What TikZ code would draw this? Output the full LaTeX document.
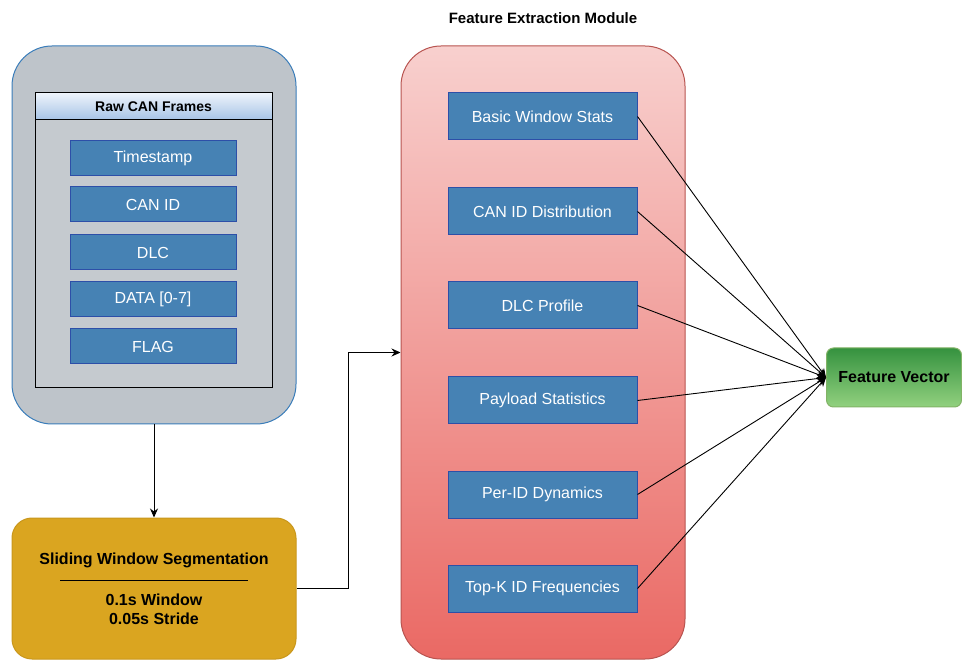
\documentclass[tikz,border=0pt]{standalone}
\usepackage{fontspec}
\setmainfont{Liberation Sans}
\usetikzlibrary{arrows.meta,shadings}
\definecolor{grayfill}{HTML}{BEC4CA}
\definecolor{grayedge}{HTML}{3A7DBA}
\definecolor{innerfill}{HTML}{C5CACF}
\definecolor{hdrtop}{HTML}{EEF4FB}
\definecolor{hdrbot}{HTML}{A6C3E6}
\definecolor{bluefill}{HTML}{4682B4}
\definecolor{blueedge}{HTML}{2D4FA8}
\definecolor{goldfill}{HTML}{DAA520}
\definecolor{goldedge}{HTML}{C9971C}
\definecolor{redtop}{HTML}{F8D0CE}
\definecolor{redbot}{HTML}{EA6964}
\definecolor{rededge}{HTML}{B85450}
\definecolor{greentop}{HTML}{35923F}
\definecolor{greenbot}{HTML}{92D17F}
\definecolor{greenedge}{HTML}{82B366}
\tikzset{
  fieldbox/.style={draw=blueedge, line width=1pt, fill=bluefill, text=white,
    minimum width=166pt, minimum height=35pt, inner sep=0pt,
    font=\fontsize{16}{19}\selectfont},
  featbox/.style={draw=blueedge, line width=1pt, fill=bluefill, text=white,
    minimum width=189pt, minimum height=47pt, inner sep=0pt,
    font=\fontsize{16}{19}\selectfont},
  boldlbl/.style={inner sep=0pt, font=\bfseries\fontsize{16}{19}\selectfont},
  conn/.style={draw=black, line width=0.9pt},
  arr/.style={conn, -{Stealth[length=9pt,width=8pt]}}
}
\begin{document}
\begin{tikzpicture}[x=1pt,y=-1pt]
\useasboundingbox (0,0) rectangle (962,660);
\fill[white] (0,0) rectangle (962,660);

% title
\node[inner sep=0pt, font=\bfseries\fontsize{15}{18}\selectfont] (title) at (543,18) {Feature Extraction Module};

% left gray container
\node[draw=grayedge, line width=1pt, fill=grayfill, rounded corners=40pt,
  minimum width=284pt, minimum height=378pt, inner sep=0pt] (raw) at (154,235) {};
\node[draw=black, line width=1pt, fill=innerfill, minimum width=237pt, minimum height=295pt, inner sep=0pt] (inner) at (153.5,240.5) {};
\node[draw=black, line width=1pt, top color=hdrtop, bottom color=hdrbot, minimum width=237pt, minimum height=27pt, inner sep=0pt,
  font=\bfseries\fontsize{14}{17}\selectfont] (hdr) at (153.5,106.5) {Raw CAN Frames};
\node[fieldbox] (ts) at (153,158) {Timestamp};
\node[fieldbox] (cid) at (153,204.5) {CAN ID};
\node[fieldbox] (dlc) at (153,252.5) {DLC};
\node[fieldbox] (data) at (153,299.5) {DATA [0-7]};
\node[fieldbox] (flag) at (153,346.5) {FLAG};

% segmentation box
\node[draw=goldedge, line width=1pt, fill=goldfill, rounded corners=20pt,
  minimum width=284pt, minimum height=141pt, inner sep=0pt] (seg) at (154,588.5) {};
\node[boldlbl] (segt) at (154,560) {Sliding Window Segmentation};
\draw[black, line width=1pt] (60,580) -- (248,580);
\node[boldlbl] (segw) at (154,600) {0.1s Window};
\node[boldlbl] (segs) at (154,619) {0.05s Stride};

% feature extraction module
\node[draw=rededge, line width=1pt, top color=redtop, bottom color=redbot, rounded corners=40pt,
  minimum width=284pt, minimum height=613pt, inner sep=0pt] (fe) at (543,352.5) {};
\node[featbox] (f1) at (542.5,116.5) {Basic Window Stats};
\node[featbox] (f2) at (542.5,211.5) {CAN ID Distribution};
\node[featbox] (f3) at (542.5,305.5) {DLC Profile};
\node[featbox] (f4) at (542.5,400.5) {Payload Statistics};
\node[featbox] (f5) at (542.5,494.5) {Per-ID Dynamics};
\node[featbox] (f6) at (542.5,588.5) {Top-K ID Frequencies};

% feature vector
\node[draw=greenedge, line width=1pt, top color=greentop, bottom color=greenbot, rounded corners=7pt,
  minimum width=135pt, minimum height=59pt, inner sep=0pt,
  font=\bfseries\fontsize{16}{19}\selectfont] (fv) at (894,377.5) {Feature Vector};

% connectors
\draw[arr] (raw.south) -- (seg.north);
\draw[arr] (seg.east) -- ++(52,0) |- (fe.west);
\foreach \f in {f1,f2,f3,f4,f5,f6}{
  \draw[arr] (\f.east) -- (fv.west);
}
\end{tikzpicture}
\end{document}
